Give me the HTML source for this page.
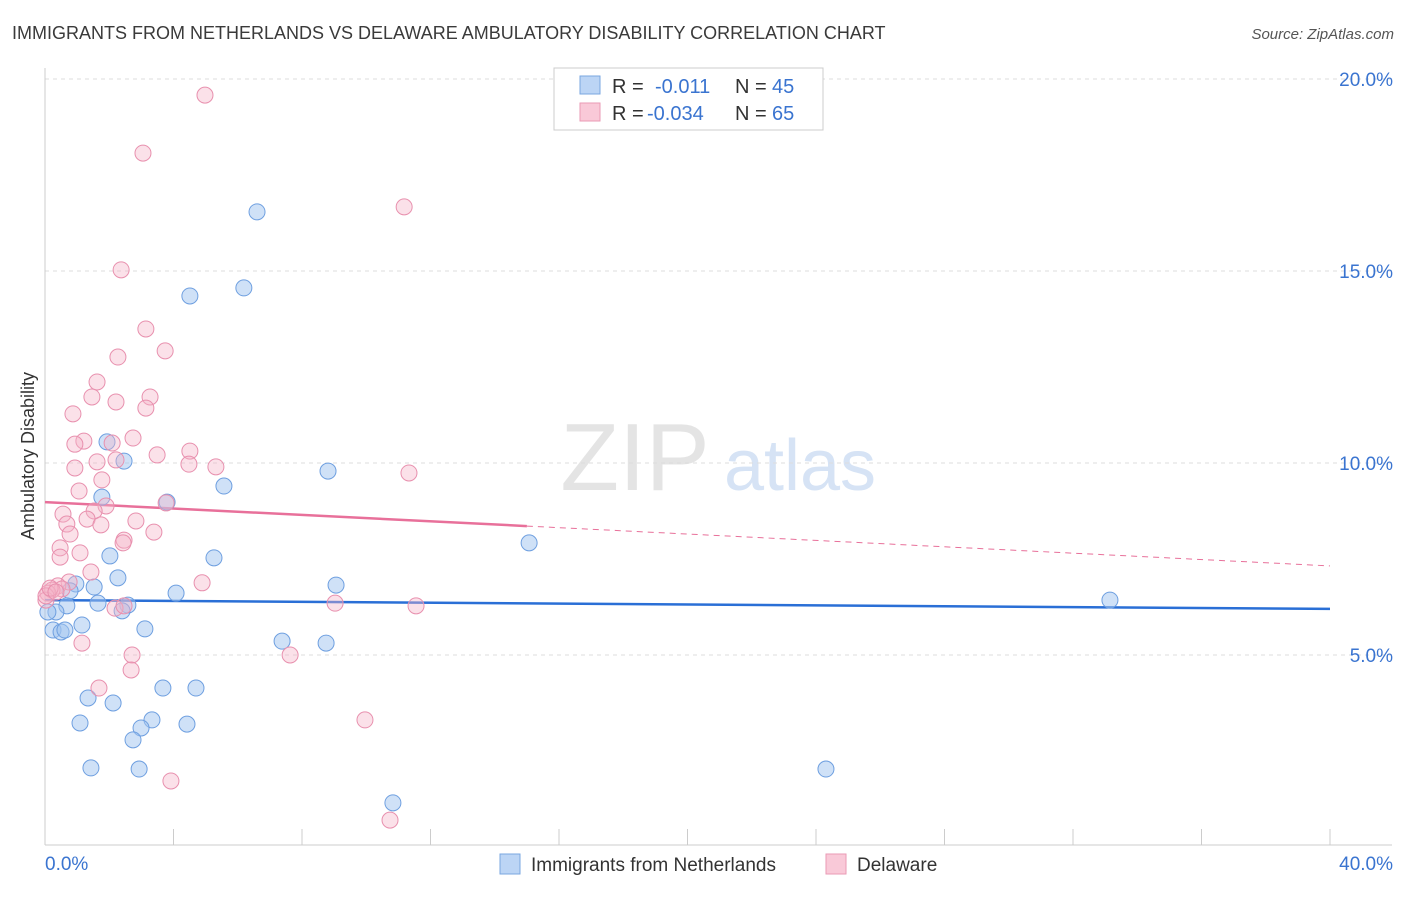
<!DOCTYPE html>
<html><head><meta charset="utf-8"><style>
body{margin:0;background:#fff;font-family:"Liberation Sans",sans-serif;}
svg text{font-family:"Liberation Sans",sans-serif;}
</style></head><body>
<svg width="1406" height="892" xmlns="http://www.w3.org/2000/svg" id="chart">
<text x="12" y="39" font-size="18" fill="#3a3a3a">IMMIGRANTS FROM NETHERLANDS VS DELAWARE AMBULATORY DISABILITY CORRELATION CHART</text>
<text x="1394" y="39" font-size="15" fill="#555" font-style="italic" text-anchor="end">Source: ZipAtlas.com</text>
<text x="34" y="456" font-size="18" fill="#333" text-anchor="middle" transform="rotate(-90 34 456)">Ambulatory Disability</text>
<g>
<text x="635" y="490" font-size="96" fill="#e4e4e4" font-family="Liberation Serif,serif" text-anchor="middle">ZIP</text>
<text x="800" y="490" font-size="72" fill="#d6e3f5" text-anchor="middle">atlas</text>
</g>
<g id="grid"></g><g id="axes"></g><g id="trends"></g><g id="pts"></g>
<g>
<rect x="554" y="68" width="269" height="62" fill="#fff" stroke="#ccc"/>
<rect x="580" y="76" width="20" height="18" fill="#bcd5f5" stroke="#7aa7e0"/>
<rect x="580" y="103" width="20" height="18" fill="#f9c9d8" stroke="#ea9ab5"/>
<text x="612" y="93" font-size="20" fill="#333">R = </text><text x="655" y="93" font-size="20" fill="#3a74d0">-0.011</text>
<text x="735" y="93" font-size="20" fill="#333">N = </text><text x="772" y="93" font-size="20" fill="#3a74d0">45</text>
<text x="612" y="120" font-size="20" fill="#333">R = </text><text x="647" y="120" font-size="20" fill="#3a74d0">-0.034</text>
<text x="735" y="120" font-size="20" fill="#333">N = </text><text x="772" y="120" font-size="20" fill="#3a74d0">65</text>
</g>
<g>
<rect x="500" y="854" width="20" height="20" fill="#bcd5f5" stroke="#7aa7e0"/>
<text x="531" y="871" font-size="19" fill="#333">Immigrants from Netherlands</text>
<rect x="826" y="854" width="20" height="20" fill="#f9c9d8" stroke="#ea9ab5"/>
<text x="857" y="871" font-size="19" fill="#333">Delaware</text>
</g>
</svg>
<script>
const yTicks=[5,10,15,20];
const xTickCount=10;
const blueX=[6.60,4.51,6.19,2.46,1.93,8.81,5.57,1.77,3.80,15.07,5.26,2.02,2.27,1.53,0.96,9.06,4.08,0.78,1.65,0.68,2.58,2.40,0.34,1.15,0.25,0.50,0.62,3.11,7.38,8.75,3.67,4.70,1.34,2.12,3.33,1.09,4.42,2.99,2.74,1.43,2.93,24.31,10.83,33.15,0.09];
const blueY=[16.54,14.35,14.56,10.05,10.55,9.79,9.40,9.11,8.98,7.92,7.53,7.58,7.01,6.77,6.85,6.82,6.61,6.67,6.35,6.28,6.30,6.15,6.12,5.78,5.65,5.60,5.65,5.68,5.36,5.31,4.14,4.14,3.88,3.75,3.31,3.23,3.20,3.10,2.79,2.06,2.03,2.03,1.15,6.43,6.12];
const pinkX=[4.98,3.05,11.18,2.37,3.14,3.74,2.27,1.62,1.46,3.27,2.21,3.14,0.87,1.21,2.09,0.93,2.74,4.51,3.49,2.21,1.62,4.48,5.32,0.93,11.33,1.77,1.06,3.77,1.90,1.53,0.56,1.31,2.83,0.68,3.39,1.74,0.78,2.46,2.43,0.47,1.09,0.47,1.43,4.89,0.75,0.40,0.53,0.22,0.09,0.03,9.03,11.55,2.18,2.46,1.15,7.63,2.71,2.68,1.68,9.96,3.92,10.74,0.03,0.16,0.34];
const pinkY=[19.58,18.07,16.67,15.03,13.49,12.92,12.76,12.11,11.72,11.72,11.59,11.43,11.28,10.57,10.52,10.49,10.65,10.31,10.21,10.08,10.03,9.97,9.90,9.87,9.74,9.56,9.27,8.96,8.88,8.75,8.67,8.54,8.49,8.41,8.20,8.39,8.15,7.99,7.92,7.79,7.66,7.55,7.16,6.88,6.90,6.80,6.72,6.69,6.61,6.43,6.35,6.28,6.22,6.28,5.31,5.00,5.00,4.61,4.14,3.31,1.72,0.70,6.54,6.74,6.64];
const blueTrend=[6.43,6.20];
const pinkTrend=[8.98,7.32];
const pinkSolidEnd=15.0;
const X=v=>45+v*(1285/40), Y=v=>847-v*38.4;
const NS='http://www.w3.org/2000/svg';
function mk(p,t,a){const e=document.createElementNS(NS,t);for(const k in a)e.setAttribute(k,a[k]);p.appendChild(e);return e;}
const grid=document.getElementById('grid'),axes=document.getElementById('axes'),trends=document.getElementById('trends'),pts=document.getElementById('pts');
yTicks.forEach(t=>{
 const l=mk(grid,'line',{x1:45,x2:1392,y1:Y(t),y2:Y(t),stroke:'#ddd','stroke-dasharray':'4,4'});
 
 
 const tx=mk(grid,'text',{x:1393,y:Y(t)+7,'font-size':19,fill:'#3a74d0','text-anchor':'end'});tx.textContent=t.toFixed(1)+'%';
 
 
});
mk(axes,'line',{x1:45,x2:1392,y1:845,y2:845,stroke:'#ccc'});
mk(axes,'line',{x1:45,x2:45,y1:68,y2:845,stroke:'#ccc'});
for(let i=0;i<=xTickCount;i++){const xv=i*40/xTickCount;const t=mk(axes,'line',{x1:X(xv),x2:X(xv),y1:829,y2:845,stroke:'#ccc'});
 
 }
const xl=mk(axes,'text',{x:45,y:870,'font-size':19,fill:'#3a74d0'});xl.textContent='0.0%';


const xr=mk(axes,'text',{x:1393,y:870,'font-size':19,fill:'#3a74d0','text-anchor':'end'});xr.textContent='40.0%';


blueX.forEach((v,i)=>{const c=mk(pts,'circle',{cx:X(v),cy:Y(blueY[i]),r:8,fill:'rgba(160,196,240,0.5)',stroke:'#6e9fe0','stroke-width':1});
 
 });
pinkX.forEach((v,i)=>{const c=mk(pts,'circle',{cx:X(v),cy:Y(pinkY[i]),r:8,fill:'rgba(245,180,200,0.4)',stroke:'#e890ae','stroke-width':1});
 
 });
const bl=mk(trends,'line',{x1:X(0),y1:Y(blueTrend[0]),x2:X(40),y2:Y(blueTrend[1]),stroke:'#2a6fd6','stroke-width':2.5});


const pm=pinkTrend[0]+(pinkTrend[1]-pinkTrend[0])*pinkSolidEnd/40;
const ps=mk(trends,'line',{x1:X(0),y1:Y(pinkTrend[0]),x2:X(pinkSolidEnd),y2:Y(pm),stroke:'#e8709a','stroke-width':2.5});


const pd=mk(trends,'line',{x1:X(pinkSolidEnd),y1:Y(pm),x2:X(40),y2:Y(pinkTrend[1]),stroke:'#e8709a','stroke-width':1,'stroke-dasharray':'6,5'});


</script>
</body></html>
